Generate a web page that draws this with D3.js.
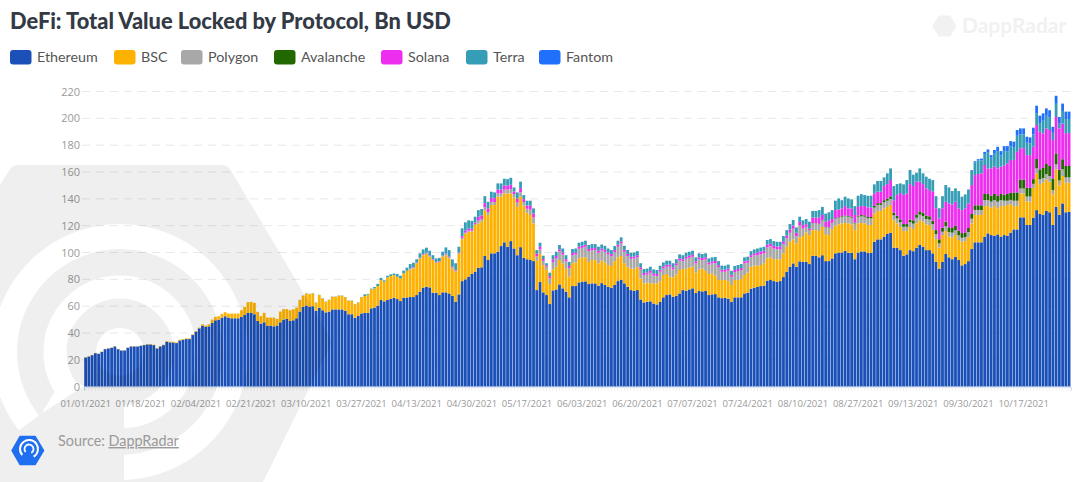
<!DOCTYPE html>
<html>
<head>
<meta charset="utf-8">
<script src="https://cdn.jsdelivr.net/npm/d3@7"></script>
<style>
  html, body { margin: 0; padding: 0; background: #fff; overflow: hidden; }
  svg { display: block; }
</style>
</head>
<body>
<div id="chart"></div>
<script>
var ethereum = [
21.8,22.5,23.5,25,24.5,26,28,28.5,29,30,
28,27,27,29,30,30,30,30.5,31,31.5,
31.5,31,28.5,30,31,33.5,33,33,32.5,34.5,
35,35.5,35.5,38.5,41,43.5,45.5,44.5,45,47.5,
49.5,50,51.5,52.5,51.5,51,51,51,52,53.5,
55,55.2,54,49,47,48,45.5,45.5,45,45.5,
48,50,50.5,49,49.5,51,56,59.5,60.5,59.6,
60,56.6,58.9,57,55.4,56,57.6,57.6,57.6,57.6,
56.6,54,54,51.4,52.7,54.6,55,55,58.4,59,
60.4,64.6,63.6,64.6,65.5,66.3,65.3,63.8,66.3,66.5,
66.8,66.8,68.3,70.8,73.8,74.5,74,70,70,68.3,
70.3,70.3,69.5,67.6,63.3,68.8,78.7,80,82,84,
85.7,88.7,89,97.4,94.4,99.4,99.4,100.6,104.8,107.6,
104.3,108.5,103,98,104,96,95,94.4,93.6,72,
78,70.3,68.3,61.6,71.8,72.5,76.2,73.3,70.8,66.6,
75,75,77.7,78.2,78.5,76.5,77,77,75.3,77.2,
75.8,74.5,73.8,75.8,78.7,79.7,77,74.5,72,71.5,
72,65,62.8,63.3,63.6,62,61.3,63.3,66.6,68.3,
68.8,67,67.8,69.5,72,71.5,72.5,73.3,69.8,71.5,
71,71.3,68.3,68.8,69,66.6,66,66.3,65.6,63.3,
66.6,66.6,66.6,69.5,70,73,73.8,74.3,75,75.3,
79,79.5,78.7,78.2,78.7,81.7,85.7,89.4,91.9,89.4,
93.4,93,93,91.4,97.6,97.4,96.4,98,93.6,93.6,
95.6,99.4,100,100,101.3,99.8,99.8,95,100,100.8,
100.8,99.6,99.8,108,109.8,109.8,111.8,113.8,114.8,103.6,
103.6,101.8,97.6,98.6,101.8,101,103.6,105.6,104.3,101.8,
101.8,99.4,93,88,93,98.9,96.4,95,96.9,94.4,
90.4,91.4,93.6,102.6,107.6,107.6,107.6,111.8,114.3,113,
112.5,113.5,111.8,113,112.5,114.8,117.2,117.2,126.2,126.2,
120.5,120.5,126,131.6,128.7,128.2,131,130,120.5,134,
128,136.6,130,130.4];

var bsc = [
.2,.2,.2,.2,.2,.2,.2,.2,.2,.2,
.2,.2,.2,.2,.2,.2,.2,.2,.2,.2,
.3,.3,.3,.3,.3,.5,.5,.5,.5,.5,
.5,.5,.5,.5,.5,.5,1,1,1.5,2.5,
2.5,2.5,2.8,3,3,3.5,3.5,3.5,5,6,
8,8,8.5,6.8,5.6,7,6,6,6.5,5,
8,7.8,7.3,8,8.2,8,8.5,8.2,9,9.4,
9.5,6,9.4,8.8,7.9,8.6,9.4,9.4,10.2,10.2,
10,10,10,10,10,12,12.6,13.6,14.1,14.3,
14.6,14.9,14.7,16.9,17,16.9,16.7,16.9,18.2,19.9,
20.6,21.4,23.7,24.6,24.2,24.4,22.9,24.4,22.4,24.7,
26.7,27.7,26.1,20.4,22.4,30.2,31.3,34,33.5,31.5,
34.8,33,34,34.2,33.6,36,36,41,36.8,36.4,
39.7,35.5,38,36,37.6,39,34.6,33.6,28.1,22,
21,20.3,18.7,14.9,15.6,16.9,18.2,18.6,17.2,15.4,
17,17.6,17.9,18.2,17.9,16.5,17.4,17.4,16.7,16.8,
16.8,16.2,16.2,17.8,17.7,17.7,15,14.9,16,16.5,
17,15.7,14.2,14.2,13.4,15,15.7,15.4,16.6,15.7,
13.2,14.5,15.9,17.5,15.7,16.5,16.2,16.1,15.4,15.9,
17,15.1,15.7,15.7,13.7,12.9,13.5,13.2,13.1,12.5,
12.9,12.9,13.6,13.7,15,16.4,16.4,15.9,15.7,16.7,
16.6,16.9,16.3,16.8,16.3,17.7,18.6,18.6,17.9,17.4,
17.9,19.3,22,21.6,19.1,19.3,19.6,21,20.2,19.4,
21.9,20.6,21,21.7,20.7,21.9,21.2,21.7,21.7,21.2,
20.9,20.9,20.7,21,21.2,21.2,21.1,20.2,20.6,20.4,
18.1,17.2,18.4,17.4,17.2,16.5,18.1,18.4,18.7,19.2,
18.7,17.3,17,15.6,20,17.1,15.4,16.3,16.1,14.9,
17.6,17.1,18.2,19.1,20.4,20.4,20.4,22.8,20.3,20.4,
22.1,19.4,22.8,21.6,22.9,21.2,17.4,17.4,17.8,17.8,
17.5,17.5,22,27.4,22.3,23.8,23.5,22.8,22.8,28,
22,20.4,22,21.6];

var polygon = [
0,0,0,0,0,0,0,0,0,0, 0,0,0,0,0,0,0,0,0,0, 0,0,0,0,0,0,0,0,0,0, 0,0,0,0,0,0,0,0,0,0,
0,0,0,0,0,0,0,0,0,0, 0,0,0,0,0,0,0,0,0,0, 0,0,0,0,0,0,0,0,0,0, 0,0,0,0,0,0,0,0,0,0,
0,0,0,0,0,0,0,0,0,0, 0,0,0,0,0,0,0,0,0,0,
.4,.4,.2,.4,.5,.6,.5,.3,.2,.2,
.3,.7,.7,.9,.8,.5,.9,.8,.8,.8,
.8,2.1,2,2.2,2.2,2.3,2.2,2.4,2.4,2.8,
2.9,3.3,2.5,3.2,3.2,2.6,3,4,4.4,3.2,
3.5,3.2,2.4,4.4,5.6,6.2,6.4,6.5,5.5,6.5,
6.1,5.9,7.2,7.1,7.9,8.1,7.4,7.4,7.8,7.5,
7.9,7.8,7.3,6.7,7.9,9.4,8.5,8,7.3,7.5,
7.5,6.8,6.2,6,7.9,5.9,5.5,7,4.9,5.4,
7.4,6,6.8,7.1,5.8,7.3,7.4,7.4,6.7,7.5,
6.4,8.5,7.1,7.4,9.5,9.6,6.2,6.2,7.8,6.1,
6,6.7,6.7,8.7,7.4,7.1,7.6,7.8,8,7.3,
8.2,8.1,8,7.5,7.5,7,6.4,6.7,7.9,5.4,
8.9,5.5,4,3.6,5,5,5.2,5,5,5.5,
4.5,5,5,5,5,5,5,5,5,5,
5,5,5,4.5,4.5,4.5,4.6,4.6,4.6,3.7,
3.7,3.7,3.2,3.2,3.5,4,4.2,4.2,4.2,4,
4,4.5,3.7,3.2,2.5,3.5,3.5,3.5,3.5,3.5,
3,3,3.5,3.5,3.7,3.7,3.7,4.5,4.5,4.5,
4.5,5,4.5,4,3.2,3.2,4,4,3.7,3.7,
3.7,3.7,3.2,3.7,3.5,3.5,4,4.2,3.2,3.7,
3.7,5,4,4];

var avalanche = [
0,0,0,0,0,0,0,0,0,0, 0,0,0,0,0,0,0,0,0,0, 0,0,0,0,0,0,0,0,0,0, 0,0,0,0,0,0,0,0,0,0,
0,0,0,0,0,0,0,0,0,0, 0,0,0,0,0,0,0,0,0,0, 0,0,0,0,0,0,0,0,0,0, 0,0,0,0,0,0,0,0,0,0,
0,0,0,0,0,0,0,0,0,0, 0,0,0,0,0,0,0,0,0,0, 0,0,0,0,0,0,0,0,0,0, 0,0,0,0,0,0,0,0,0,0,
0,0,0,0,0,0,0,0,0,0, 0,0,0,0,0,0,0,0,0,0, 0,0,0,0,0,0,0,0,0,0, 0,0,0,0,0,0,0,0,0,0,
0,0,0,0,0,0,0,0,0,0, 0,0,0,0,0,0,0,0,0,0, 0,0,0,0,0,0,0,0,0,0, 0,0,0,0,0,0,0,0,0,0,
0,0,0,0,0,0,0,0,0,0, 0,0,0,0,0,0,0,0,0,0,
.1,.1,.1,.1,.2,.2,.2,.3,.3,.3,
.3,.4,.4,.5,.6,.6,.6,.6,.8,.9,
1,1,1,1.2,1.3,1.3,1.5,1.5,1.8,2,
2,2,2,2,2,2.5,2.5,2.5,2.5,2.5,
2.5,2.5,3,3,3,3.5,3.5,3.5,3.5,3.5,
3.5,3.5,3,3.5,3.5,3.5,3.5,4.5,4.5,4.5,
4.5,4.2,4.5,4.5,5,5.2,6.2,6.2,6.7,6.7,
6.5,6.5,3.5,7,7.5,7.5,7.5,7.5,8.7,8.2,
8,7.5,8.5,8.5];

var solana = [
0,0,0,0,0,0,0,0,0,0, 0,0,0,0,0,0,0,0,0,0, 0,0,0,0,0,0,0,0,0,0, 0,0,0,0,0,0,0,0,0,0,
0,0,0,0,0,0,0,0,0,0, 0,0,0,0,0,0,0,0,0,0, 0,0,0,0,0,0,0,0,0,0, 0,0,0,0,0,0,0,0,0,0,
0,0,0,0,0,0,0,0,0,0, 0,0,0,0,0,0,0,0,0,0,
.4,.4,.4,.4,.4,.4,.4,.4,.4,.4,
.4,.6,.6,.6,.6,.6,1.3,1.5,1.5,1.4,
1,2.8,2.7,3,2.8,3,2.9,3,3,3.2,
3,3.2,2,3,3.2,2.2,2.4,2.8,3,1.8,
1.8,1.4,1,1.5,1.8,1.8,1.6,1.6,1.5,1.5,
1.5,1.5,1.5,1.5,1.5,1.5,1.5,1.5,1.5,1.5,
1.5,1.5,1.5,1.5,1.5,1.5,1.5,1.5,1.5,1.5,
1.5,1.5,1.5,1.5,1.5,1.5,1.5,1.5,1.5,1.5,
1.5,1.5,1.5,1.5,1.5,1.5,1.5,1.5,1.5,1.5,
1.5,1.5,1.5,1.5,1.5,1.5,1.5,1.5,1.5,1.5,
1.5,1.5,1.5,1.5,1.5,1.5,1.5,2,2,2,
2,2,2,2,2,2,2,2.5,2.5,2.5,
2.5,2.5,2,1.3,4.1,4.1,4.6,3.7,3.9,5.2,
2.7,6.2,5.6,5.7,7,5.6,6.3,5.7,6.5,6.7,
6.9,7.1,7.1,9.3,8.5,8.5,10.5,10.9,12.2,9.3,
15.6,19.6,21.8,22.8,26.5,25.5,24.4,22.1,21.3,20.3,
19.5,21.6,16.3,15.6,14.5,14.8,17.8,17.6,17.8,16.6,
17.1,18,18.3,21.6,22.5,23.3,23.8,21.6,19.1,20.3,
20.4,20.6,20.4,21.9,22.8,24.6,24.2,30.2,23.2,23.4,
24.4,24.4,24.1,25.3,28,25.8,26.5,26.8,28.6,27.1,
30.8,26.5,24.5,24.5];

var terra = [
0,0,0,0,0,0,0,0,0,0, 0,0,0,0,0,0,0,0,0,0, 0,0,0,0,0,0,0,0,0,0, 0,0,0,0,0,0,0,0,0,0,
0,0,0,0,0,0,0,0,0,0, 0,0,0,0,0,0,0,0,0,0,
0,0,0,0,0,0,.2,.2,.2,.2,
.2,.2,.2,.2,.2,.2,.2,.2,.2,.2,
.2,.2,.2,.2,.2,.3,1.2,.6,.6,1,
1.6,1.6,1,1.2,1.2,1.1,2,2,2,2.3,
3.2,3.4,2.4,3.2,3.4,3.7,3.5,2.9,2.6,2.4,
2.9,4.5,4.9,5.4,4.9,4.2,5.8,6.2,6.2,5.9,
4.4,5,4.7,5.2,4.8,4.6,4.3,4.5,4.5,5,
4.8,5.2,3,4.6,4.8,3,3.6,3.8,3.8,2.8,
3,2.4,1.6,2.6,3.2,3.2,3.2,3,3,3,
3,3,3,3,3,3,3,3,3,3,
3,3,3,3,3,3,3,3,3,3,
3,3,3,3,3,3,3,3,3,3,
3,3,3,3,3,3,3,3,3,3,
3,3,3,3,3,3,3,3,3,3,
3,3,3,3,3,3,3,3,3,3,
3.5,3.5,3.5,3.5,3.5,3.9,4,4,4,4,
3.9,3.6,3.9,5,5,5,5.6,6,6,6,
6.6,7,8.3,6.1,7,7.4,6.7,6.6,8.3,8.9,
8.2,8.7,8.7,6.8,8,8,6.5,8,8.7,10.5,
8,7.2,7.8,10,10.5,8.5,6.7,9.9,8,8.7,
8.5,8.7,9,7.6,9,12.5,11.9,9.9,10,12.9,
10,10.3,10.4,10.7,9.3,10,9.7,8.3,12.1,8,
9.6,12.9,8.3,10.7,9.1,10,9.6,12,10.4,10.2,
9.2,8.7,9.2,8.7,6.5,9.4,9.4,9.2,5.4,9.8,
3.5,9.5,10.5,10.5];

var fantom = [
0,0,0,0,0,0,0,0,0,0, 0,0,0,0,0,0,0,0,0,0, 0,0,0,0,0,0,0,0,0,0, 0,0,0,0,0,0,0,0,0,0,
0,0,0,0,0,0,0,0,0,0, 0,0,0,0,0,0,0,0,0,0, 0,0,0,0,0,0,0,0,0,0, 0,0,0,0,0,0,0,0,0,0,
0,0,0,0,0,0,0,0,0,0, 0,0,0,0,0,0,0,0,0,0, 0,0,0,0,0,0,0,0,0,0, 0,0,0,0,0,0,0,0,0,0,
0,0,0,0,0,0,0,0,0,0, 0,0,0,0,0,0,0,0,0,0, 0,0,0,0,0,0,0,0,0,0, 0,0,0,0,0,0,0,0,0,0,
0,0,0,0,0,0,0,0,0,0, 0,0,0,0,0,0,0,0,0,0, 0,0,0,0,0,0,0,0,0,0, 0,0,0,0,0,0,0,0,0,0,
0,0,0,0,0,0,0,0,0,0, 0,0,0,0,0,0,0,0,0,0, 0,0,0,0,0,0,0,0,0,0, 0,0,0,0,0,0,0,0,0,0,
0,0,0,0,0,0,0,0,0,0, 0,0,0,0,0,0,0,0,0,0, 0,0,0,0,0,0,0,0,0,0,
0,0,0,.5,1,1.1,1.3,1.5,2,1.9,
2.8,3.2,3.3,3.6,3.8,4,4,4.3,4.5,4.5,
4.5,4.5,5,5.7,5.5,5.5,5.5,5.5,4.5,6,
5,5.5,5.5,5.5];

var seriesNames = ["Ethereum", "BSC", "Polygon", "Avalanche", "Solana", "Terra", "Fantom"];
var seriesColors = ["#1a50b8", "#fdb100", "#a8a8a8", "#226800", "#ee2eee", "#359db5", "#2170fb"];
var seriesValues = [ethereum, bsc, polygon, avalanche, solana, terra, fantom];

var xLabels = ["01/01/2021", "01/18/2021", "02/04/2021", "02/21/2021", "03/10/2021", "03/27/2021",
  "04/13/2021", "04/30/2021", "05/17/2021", "06/03/2021", "06/20/2021", "07/07/2021", "07/24/2021",
  "08/10/2021", "08/27/2021", "09/13/2021", "09/30/2021", "10/17/2021"];
var yTicks = [0, 20, 40, 60, 80, 100, 120, 140, 160, 180, 200, 220];

var svgWidth = 1088;
var svgHeight = 482;

var margin = { top: 91.5, right: 17.3, bottom: 95.3, left: 84 };
var width = svgWidth - margin.left - margin.right;
var height = svgHeight - margin.top - margin.bottom;

var svg = d3.select("#chart")
  .append("svg")
  .attr("width", svgWidth)
  .attr("height", svgHeight);

// title and legend
svg.append("text")
  .attr("x", 10)
  .attr("y", 29)
  .style("font-family", "Lato")
  .style("font-size", "21.8px")
  .style("font-weight", 900)
  .attr("fill", "#333a45")
  .text("DeFi: Total Value Locked by Protocol, Bn USD");

var legendX = [10, 114, 181, 274, 381, 466, 539];
var legend = svg.selectAll(".legend")
  .data(seriesNames)
  .enter()
  .append("g")
  .attr("class", "legend")
  .attr("transform", (d, i) => `translate(${legendX[i]}, 50)`);

legend.append("rect")
  .attr("width", 21.5)
  .attr("height", 14.5)
  .attr("rx", 3)
  .attr("fill", (d, i) => seriesColors[i]);

legend.append("text")
  .attr("x", 27)
  .attr("y", 12)
  .style("font-family", "Lato")
  .style("font-size", "14.3px")
  .attr("fill", "#555")
  .text(d => d);

// chart
var chartGroup = svg.append("g")
  .attr("transform", `translate(${margin.left}, ${margin.top})`);

var firstDay = new Date(2021, 0, 1);
var days = d3.range(ethereum.length).map(i => d3.timeDay.offset(firstDay, i));
var dayFormat = d3.timeFormat("%m/%d/%Y");

var rows = days.map(function(day, i) {
  var row = { day: dayFormat(day) };
  seriesNames.forEach(function(name, s) { row[name] = seriesValues[s][i]; });
  return row;
});

var xScale = d3.scaleBand()
  .domain(rows.map(d => d.day))
  .range([0, width])
  .paddingInner(0.14)
  .paddingOuter(0.07);

var yScale = d3.scaleLinear()
  .domain([0, 220])
  .range([height, 0]);

// dashed grid behind the bars
chartGroup.selectAll(".grid")
  .data(yTicks.slice(1))
  .enter()
  .append("line")
  .attr("class", "grid")
  .attr("x1", -2)
  .attr("x2", width)
  .attr("y1", d => yScale(d))
  .attr("y2", d => yScale(d))
  .attr("stroke", "#e8e8e8")
  .attr("stroke-dasharray", "8 6");

var stacked = d3.stack().keys(seriesNames)(rows);

chartGroup.selectAll(".series")
  .data(stacked)
  .enter()
  .append("g")
  .attr("class", "series")
  .attr("fill", (d, i) => seriesColors[i])
  .selectAll("rect")
  .data(d => d)
  .enter()
  .append("rect")
  .attr("x", d => xScale(d.data.day))
  .attr("width", xScale.bandwidth())
  .attr("y", d => yScale(d[1]))
  .attr("height", d => yScale(d[0]) - yScale(d[1]));

var leftAxis = d3.axisLeft(yScale)
  .tickValues(yTicks)
  .tickSize(0)
  .tickPadding(4);

var bottomAxis = d3.axisBottom(xScale)
  .tickSize(4)
  .tickPadding(10)
  .tickFormat(d => xLabels.includes(d) ? d : "");

var yAxis = chartGroup.append("g").call(leftAxis);
yAxis.select(".domain").remove();
yAxis.selectAll("text")
  .style("font-family", "Open Sans")
  .style("font-size", "11px")
  .attr("fill", "#9a9a9a");

var xAxis = chartGroup.append("g")
  .attr("transform", `translate(0, ${height})`)
  .call(bottomAxis);
xAxis.select(".domain").attr("stroke", "#c9d6ee");
xAxis.selectAll("line").attr("stroke", "#ededed");
xAxis.selectAll("text")
  .style("font-family", "Open Sans")
  .style("font-size", "9.5px")
  .attr("fill", "#9a9a9a");

// big watermark sits over everything as a faint dark layer
var ringX = 120, ringY = 352;
var defs = svg.append("defs");
var mask = defs.append("mask")
  .attr("id", "rings")
  .attr("maskUnits", "userSpaceOnUse")
  .attr("x", 0).attr("y", 0)
  .attr("width", svgWidth).attr("height", svgHeight);
mask.append("rect").attr("width", svgWidth).attr("height", svgHeight).attr("fill", "#fff");
mask.append("circle").attr("cx", ringX).attr("cy", ringY).attr("r", 115.5)
  .attr("fill", "none").attr("stroke", "#000").attr("stroke-width", 25);
mask.append("circle").attr("cx", ringX).attr("cy", ringY).attr("r", 65)
  .attr("fill", "none").attr("stroke", "#000").attr("stroke-width", 23);
// rings stop at the lower left sector
mask.append("path").attr("d", "M124 352 V490 H-30 V467 Z").attr("fill", "#fff");
mask.append("path").attr("d", "M42 413 L64 376 L84 386 Z").attr("fill", "#000");
mask.append("circle").attr("cx", ringX).attr("cy", ringY).attr("r", 24).attr("fill", "#000");

svg.append("path")
  .attr("d", "M18 175 H222 L321 342 L243 500 H-60 V300 Z")
  .attr("fill", "#000")
  .attr("stroke", "#000")
  .attr("stroke-width", 20)
  .attr("stroke-linejoin", "round")
  .attr("opacity", 0.06)
  .attr("mask", "url(#rings)");

// source line with logo
svg.append("path")
  .attr("d", "M20 436.5 H35 L43.5 450.5 L35 464.5 H20 L12 450.5 Z")
  .attr("fill", "#1f6ff0")
  .attr("stroke", "#1f6ff0")
  .attr("stroke-width", 1.5)
  .attr("stroke-linejoin", "round");
var logoArc = d3.arc().startAngle(-2.3).endAngle(2.6);
[[8, 10], [3.6, 5.4]].forEach(function(r) {
  svg.append("path")
    .attr("transform", "translate(29, 449)")
    .attr("d", logoArc({ innerRadius: r[0], outerRadius: r[1] }))
    .attr("fill", "#fff");
});

var source = svg.append("text")
  .attr("x", 58)
  .attr("y", 446)
  .style("font-family", "Lato")
  .style("font-size", "14.4px")
  .attr("fill", "#9a9a9a");
source.append("tspan").text("Source: ");
source.append("tspan").attr("text-decoration", "underline").text("DappRadar");

// faint brand mark, top right
svg.append("path")
  .attr("d", "M939 16 H950 L956 26 L950 36 H939 L933 26 Z")
  .attr("fill", "#f1f1f1")
  .attr("stroke", "#f1f1f1")
  .attr("stroke-linejoin", "round");
svg.append("text")
  .attr("x", 962)
  .attr("y", 33)
  .style("font-family", "Lato")
  .style("font-size", "21px")
  .style("font-weight", 700)
  .attr("fill", "#f1f1f1")
  .text("DappRadar");
</script>
</body>
</html>
